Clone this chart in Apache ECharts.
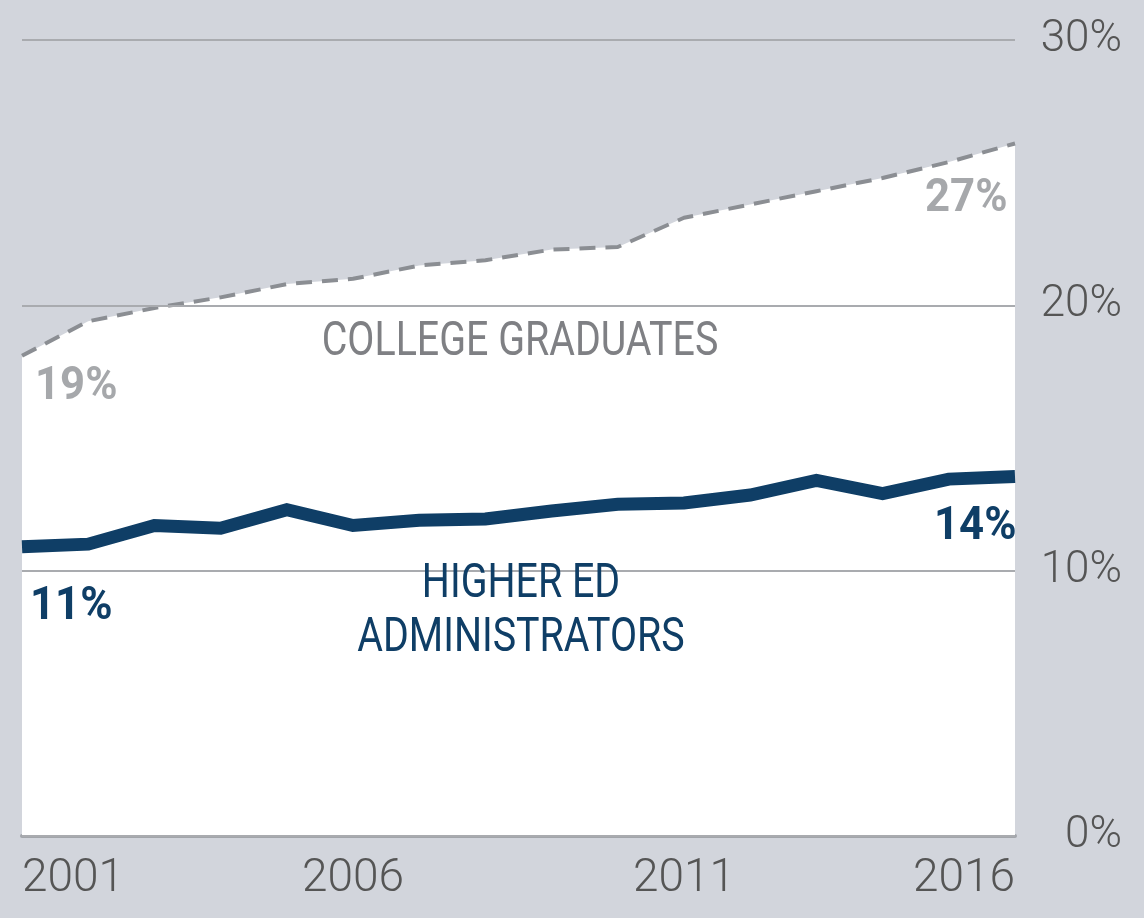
<!DOCTYPE html>
<html>
<head>
<meta charset="utf-8">
<script src="https://cdn.jsdelivr.net/npm/echarts@6/dist/echarts.min.js"></script>
<style>
  html, body { margin: 0; padding: 0; background: #d2d5dc; }
  #chart { width: 1144px; height: 918px; }
</style>
</head>
<body>
<div id="chart"></div>
<script>
  // years on the x axis
  const years = ['2001', '2002', '2003', '2004', '2005', '2006', '2007', '2008',
    '2009', '2010', '2011', '2012', '2013', '2014', '2015', '2016']
  // share of workers who are college graduates (%)
  const collegeGrads = [18.1, 19.4, 19.9, 20.3, 20.8, 21.0, 21.5, 21.7,
    22.1, 22.2, 23.3, 23.8, 24.3, 24.8, 25.4, 26.1]
  // higher ed administrators (%)
  const higherEdAdmins = [10.9, 11.0, 11.7, 11.6, 12.3, 11.7, 11.9, 11.95,
    12.25, 12.5, 12.55, 12.85, 13.4, 12.9, 13.45, 13.55]
  const yTicks = [0, 10, 20, 30]

  const font = "Roboto, 'Noto Sans', sans-serif"
  const blue = '#0f3e66'

  const chart = echarts.init(document.getElementById('chart'))

  // condensed look: squeeze the annotation text horizontally
  function note(text, x, y, color, size, weight, align, squeeze) {
    return {
      type: 'text', x: x, y: y, scaleX: squeeze || 0.82, z: 10,
      style: {
        text: text, fill: color, fontSize: size, fontWeight: weight,
        fontFamily: font, align: align || 'left', verticalAlign: 'top', lineHeight: 54
      }
    }
  }

  const option = {
    backgroundColor: '#d2d5dc',
    animation: false,
    grid: { left: 22, right: 129, top: 40, bottom: 82 },
    xAxis: {
      type: 'category',
      data: years,
      boundaryGap: false,
      axisLine: { show: true, lineStyle: { color: '#a2a5aa', width: 4 } },
      axisTick: { show: false },
      axisLabel: {
        interval: 4,
        margin: 20,
        color: '#555',
        fontSize: 46,
        fontWeight: 300,
        fontFamily: font,
        alignMinLabel: 'left',
        alignMaxLabel: 'right'
      },
      splitLine: { show: false }
    },
    yAxis: {
      type: 'value',
      position: 'right',
      min: yTicks[0],
      max: yTicks[yTicks.length - 1],
      interval: 10,
      z: 3,
      axisLine: { show: false },
      axisTick: { show: false },
      axisLabel: {
        formatter: '{value}%',
        align: 'right',
        margin: 107,
        color: '#555',
        fontSize: 44,
        fontWeight: 300,
        fontFamily: font
      },
      splitLine: { show: true, lineStyle: { color: '#a9abaf', width: 2 } }
    },
    series: [
      {
        name: 'COLLEGE GRADUATES',
        type: 'line',
        data: collegeGrads,
        symbol: 'none',
        z: 2,
        lineStyle: { color: '#8b8e93', width: 4, type: [16, 10] },
        areaStyle: { color: '#ffffff', opacity: 1 }
      },
      {
        name: 'HIGHER ED ADMINISTRATORS',
        type: 'line',
        data: higherEdAdmins,
        symbol: 'none',
        z: 5,
        lineStyle: { color: blue, width: 13, join: 'miter' }
      }
    ],
    graphic: [
      note('COLLEGE GRADUATES', 520, 316, '#7f8084', 48, 'normal', 'center'),
      note('HIGHER ED\nADMINISTRATORS', 521, 558, blue, 48, 'normal', 'center'),
      note('19%', 35, 360, '#a6a8ab', 46, 'bold', 'left', 0.95),
      note('27%', 925, 172, '#a6a8ab', 46, 'bold', 'left', 0.95),
      note('11%', 30, 580, blue, 46, 'bold', 'left', 0.95),
      note('14%', 934, 500, blue, 46, 'bold', 'left', 0.95)
    ]
  }

  chart.setOption(option)
</script>
</body>
</html>
